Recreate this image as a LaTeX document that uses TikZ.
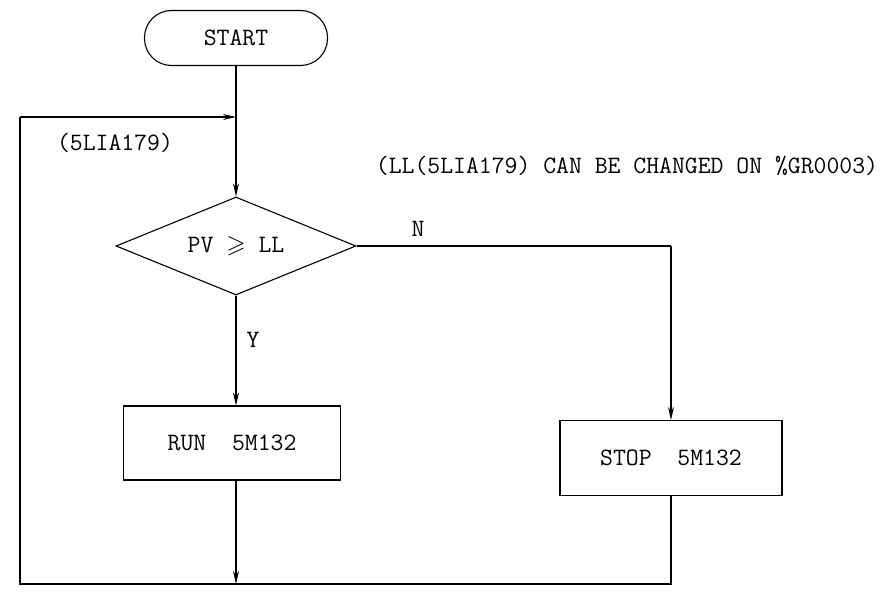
\documentclass[tikz,border=0pt]{standalone}
\usepackage{amssymb}
\usetikzlibrary{arrows.meta,shapes.geometric}
\begin{document}
\begin{tikzpicture}[x=1pt,y=-1pt,
  line width=1.1pt,
  every node/.style={font=\ttfamily\fontsize{25}{29}\selectfont},
  box/.style={draw,rectangle,inner sep=0pt},
  term/.style={draw,rectangle,rounded corners=27pt,minimum width=183pt,minimum height=55pt,inner sep=0pt},
  decision/.style={draw,diamond,aspect=2.45,minimum width=240pt,minimum height=98pt,inner sep=0pt},
  arr/.style={-{Stealth[length=13pt,width=6pt]}},
  lbl/.style={inner sep=0pt}]
\useasboundingbox (0,0) rectangle (886,596);
\fill[white] (0,0) rectangle (886,596);

\node[term] (start) at (236,38) {START};
\node[decision] (dec) at (236,246) {PV $\geqslant$ LL};
\node[box,minimum width=217pt,minimum height=74pt] (run) at (232,443) {RUN\ \ 5M132};
\node[box,minimum width=222pt,minimum height=75pt] (stop) at (671,458) {STOP\ \ 5M132};

\coordinate (j1) at (236,117);
\coordinate (cl) at (20,117);
\coordinate (bl) at (20,584);
\coordinate (jb) at (236,584);
\coordinate (br) at (671,584);
\coordinate (nr) at (671,246);

\node[lbl] (lia) at (115,143) {(5LIA179)};
\node[lbl] (note) at (627,166) {(LL(5LIA179) CAN BE CHANGED ON \%GR0003)};
\node[lbl] (nlab) at (418,229) {N};
\node[lbl] (ylab) at (253,340) {Y};

\draw (start.south) -- (j1);
\draw[arr] (j1) -- (dec.north);
\draw[arr] (dec.south) -- (dec.south |- run.north);
\draw (dec.east) -- (nr);
\draw[arr] (nr) -- (stop.north);
\draw[arr] (dec.south |- run.south) -- (jb);
\draw (stop.south) -- (br) -- (jb) -- (bl) -- (cl);
\draw[arr] (cl) -- (j1);
\end{tikzpicture}
\end{document}
